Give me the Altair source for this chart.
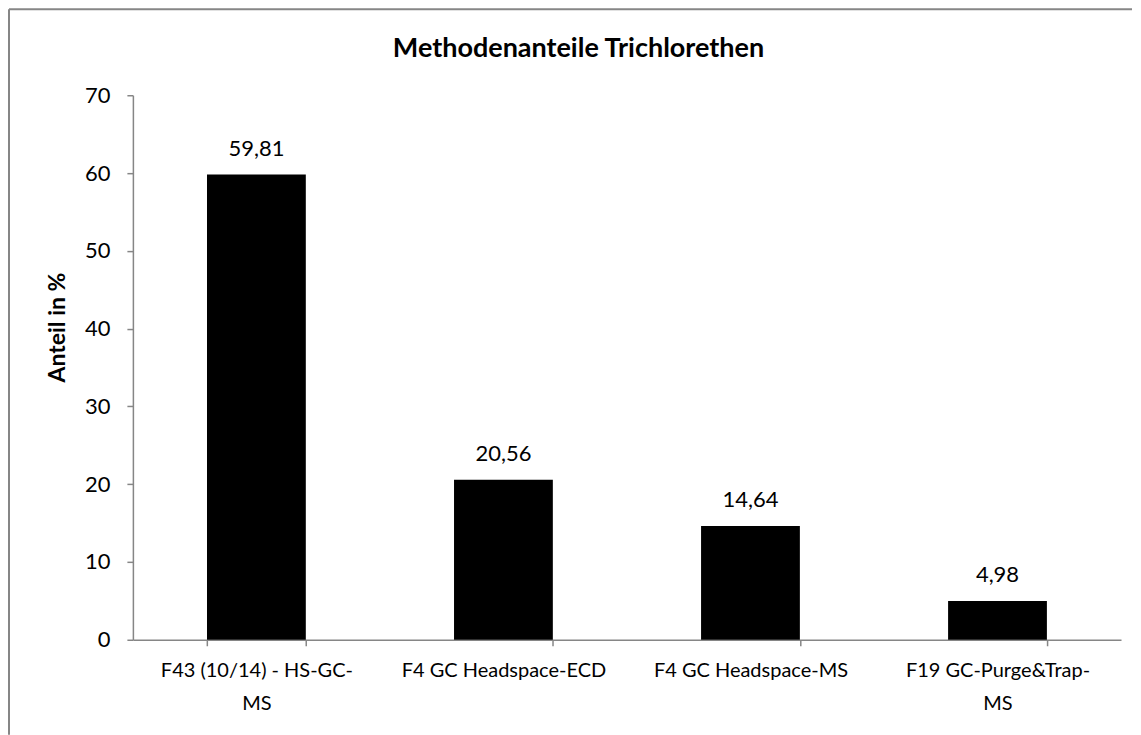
import altair as alt
import pandas as pd

chart_title = ["Methodenanteile Trichlorethen"]
categories = [
    "F43 (10/14) - HS-GC-\nMS",
    "F4 GC Headspace-ECD",
    "F4 GC Headspace-MS",
    "F19 GC-Purge&Trap-\nMS",
]
values = [59.81, 20.56, 14.64, 4.98]
y_ticks = [0, 10, 20, 30, 40, 50, 60, 70]

df = pd.DataFrame({"cat": categories, "val": values})
title_df = pd.DataFrame({"t": chart_title})
one_df = pd.DataFrame({"k": [0]})

FONT = "Lato"
GRAY = "#868686"

base = alt.Chart(df).encode(
    x=alt.X(
        "cat:N",
        sort=None,
        scale=alt.Scale(paddingInner=0.6, paddingOuter=0.3),
        axis=alt.Axis(
            title=None,
            labelAngle=0,
            labelExpr="split(datum.label, '\\n')",
            labelFontSize=20,
            labelFont=FONT,
            labelColor="#000000",
            labelPadding=15,
            labelLineHeight=33,
            labelBaseline="top",
            labelLimit=0,
            domainColor=GRAY,
            domainWidth=1.5,
            tickColor=GRAY,
            tickSize=6,
            tickWidth=1.5,
            tickBand="extent",
        ),
    ),
    y=alt.Y(
        "val:Q",
        scale=alt.Scale(domain=[0, 70], nice=False),
        axis=alt.Axis(
            title="Anteil in %",
            values=y_ticks,
            grid=False,
            labelFontSize=22,
            labelFont=FONT,
            labelColor="#000000",
            labelPadding=17,
            domainColor=GRAY,
            domainWidth=1.5,
            tickColor=GRAY,
            tickSize=6,
            tickWidth=1.5,
            titleFont=FONT,
            titleFontSize=23,
            titleFontWeight="bold",
            titleColor="#000000",
            titleX=-75,
            titleY=232,
            titleAngle=-90,
            titleAlign="center",
            titleBaseline="middle",
        ),
    ),
)

bars = base.mark_bar(color="#000000")

labels = base.transform_calculate(
    lbl="replace(format(datum.val, '.2f'), '.', ',')"
).mark_text(
    font=FONT, fontSize=22, color="#000000", baseline="alphabetic", dy=-19
).encode(text="lbl:N")

title_mark = alt.Chart(title_df).mark_text(
    font=FONT, fontSize=27, fontWeight="bold", color="#000000",
    align="center", baseline="alphabetic",
).encode(text="t:N", x=alt.value(446), y=alt.value(-38))

frame_left = alt.Chart(one_df).mark_rule(color=GRAY, strokeWidth=2).encode(
    x=alt.value(-124), y=alt.value(-86), y2=alt.value(640)
)
frame_top = alt.Chart(one_df).mark_rule(color=GRAY, strokeWidth=2).encode(
    x=alt.value(-124), x2=alt.value(1000), y=alt.value(-86)
)

chart = alt.layer(bars, labels, title_mark, frame_left, frame_top).properties(
    width=989,
    height=545,
    padding=0,
).configure_view(stroke=None)

chart.save("out.html", embed_options={"renderer": "svg", "actions": False})
